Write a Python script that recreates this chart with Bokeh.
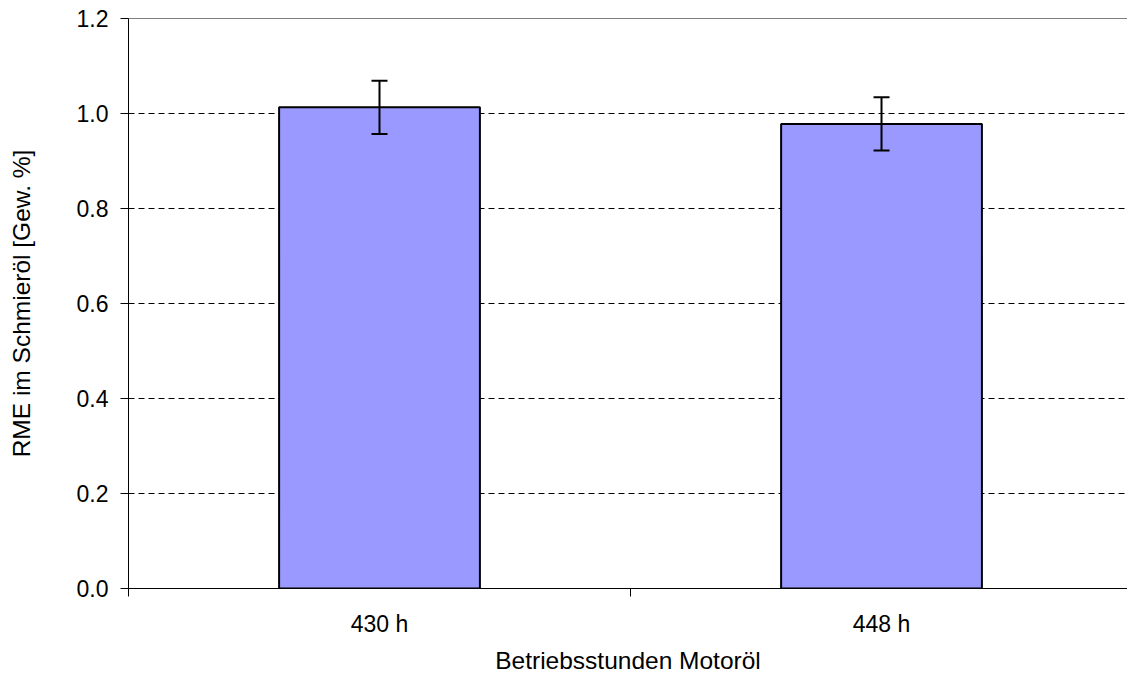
from bokeh.plotting import figure
from bokeh.models import (ColumnDataSource, FixedTicker, Whisker, TeeHead, Span,
                          NumeralTickFormatter, Range1d)
from bokeh.embed import file_html
from bokeh.resources import INLINE

categories = ["430 h", "448 h"]
values = [1.013, 0.978]
errors = [0.056, 0.056]
y_ticks = [0.0, 0.2, 0.4, 0.6, 0.8, 1.0, 1.2]

x_centers = [i + 0.5 for i in range(len(categories))]
src = ColumnDataSource(dict(
    x=x_centers, top=values,
    upper=[v + e for v, e in zip(values, errors)],
    lower=[v - e for v, e in zip(values, errors)],
))

FONT = "Liberation Sans"

p = figure(width=1127, height=677, output_backend="svg", toolbar_location=None,
           x_range=Range1d(0, 1.99), y_range=Range1d(0, 1.2),
           min_border_left=128, min_border_right=0, min_border_top=18, min_border_bottom=89)
p.outline_line_color = None

p.vbar(x="x", top="top", width=0.4, bottom=0, source=src,
       fill_color="#9999FF", line_color="black", line_width=2)

w = Whisker(base="x", upper="upper", lower="lower", source=src, level="overlay",
            line_color="black", line_width=2,
            upper_head=TeeHead(size=16, line_color="black", line_width=2),
            lower_head=TeeHead(size=16, line_color="black", line_width=2))
p.add_layout(w)

p.add_layout(Span(location=1.2, dimension="width", line_color="black", line_width=1))

# x axis
p.xaxis.ticker = FixedTicker(ticks=x_centers, minor_ticks=[0, 1, 2])
p.xaxis.major_label_overrides = {c: lab for c, lab in zip(x_centers, categories)}
p.xaxis.major_tick_out = 0
p.xaxis.major_tick_in = 0
p.xaxis.minor_tick_out = 8
p.xaxis.minor_tick_in = 0
p.xaxis.minor_tick_line_color = "black"
p.xaxis.axis_line_color = "black"
p.xaxis.axis_label = "Betriebsstunden Motoröl"
p.xaxis.major_label_standoff = 14
p.xaxis.axis_label_standoff = 7

# y axis
p.yaxis.ticker = FixedTicker(ticks=y_ticks, minor_ticks=[])
p.yaxis.formatter = NumeralTickFormatter(format="0.0")
p.yaxis.major_tick_out = 8
p.yaxis.major_tick_in = 0
p.yaxis.major_tick_line_color = "black"
p.yaxis.axis_line_color = "black"
p.yaxis.axis_label = "RME im Schmieröl [Gew. %]"
p.yaxis.major_label_standoff = 12
p.yaxis.axis_label_standoff = 39

for ax in (p.xaxis, p.yaxis):
    ax.major_label_text_font = FONT
    ax.major_label_text_font_size = "23px"
    ax.major_label_text_color = "black"
    ax.axis_label_text_font = FONT
    ax.axis_label_text_font_size = "24.5px"
    ax.axis_label_text_font_style = "normal"
    ax.axis_label_text_color = "black"

p.xgrid.grid_line_color = None
p.ygrid.ticker = FixedTicker(ticks=[0.2, 0.4, 0.6, 0.8, 1.0])
p.ygrid.grid_line_color = "black"
p.ygrid.grid_line_dash = "6 4"
p.ygrid.grid_line_width = 1

open("out.html", "w").write(file_html(p, INLINE))
